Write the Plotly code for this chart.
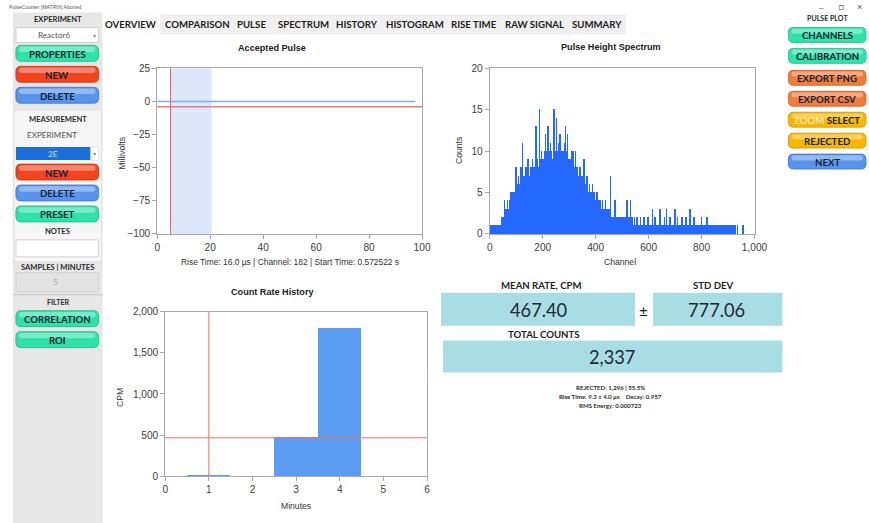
import plotly.graph_objects as go

# design coordinates are in reference pixels (869 x 523)
W, H = 869, 523
FIG_W, FIG_H = 881, 530
FS = FIG_W / W
Y_OFF, Y_SCALE = 4.5, 0.995

# ---------------- data ----------------
pulse_time = [0, 97.5]
pulse_mv = [0, 0]
threshold_mv = -4
rise_window = [5, 20.5]
trigger_time = 5

spectrum_bin_width = 2
spectrum_counts = [
    1, 0, 0, 1, 0, 1, 0, 0, 1, 0, 0, 1, 0, 1, 0, 0, 1, 0, 1, 1, 1, 2, 1, 2, 1,
    2, 1, 4, 2, 2, 3, 2, 3, 4, 2, 3, 4, 3, 2, 5, 3, 4, 3, 5, 4, 3, 5, 4, 6, 8,
    5, 4, 6, 7, 5, 4, 6, 5, 8, 5, 7, 11, 6, 5, 7, 6, 5, 8, 6, 7, 5, 9, 6, 7, 6,
    7, 6, 8, 7, 6, 9, 8, 7, 6, 8, 7, 13, 8, 7, 9, 8, 7, 8, 15, 9, 8, 7, 10, 9, 8,
    9, 8, 10, 7, 12, 9, 8, 10, 9, 13, 8, 10, 9, 8, 11, 9, 10, 8, 9, 10, 15, 9, 8, 10, 9,
    14, 9, 10, 8, 11, 9, 10, 12, 8, 9, 10, 8, 9, 10, 8, 9, 11, 13, 9, 8, 10, 12, 8, 9, 7,
    8, 9, 7, 10, 8, 7, 10, 8, 7, 6, 8, 10, 7, 6, 8, 7, 6, 7, 5, 8, 6, 7, 5, 6, 7,
    5, 6, 9, 5, 6, 4, 5, 6, 7, 4, 5, 4, 6, 5, 4, 3, 5, 4, 6, 4, 3, 5, 4, 3, 4,
    4, 3, 5, 3, 2, 4, 3, 2, 4, 3, 2, 3, 4, 2, 3, 2, 3, 2, 4, 2, 3, 2, 2, 3, 2,
    2, 3, 7, 2, 1, 2, 1, 2, 2, 1, 2, 4, 1, 2, 1, 2, 1, 2, 1, 1, 2, 1, 2, 1, 1,
    1, 2, 1, 1, 2, 1, 1, 1, 4, 1, 2, 1, 1, 1, 2, 4, 1, 1, 2, 1, 1, 1, 2, 1, 1,
    1, 1, 2, 1, 1, 1, 1, 1, 1, 2, 1, 1, 1, 1, 1, 2, 1, 1, 1, 1, 1, 1, 1, 2, 1,
    1, 1, 1, 1, 1, 1, 3, 1, 1, 1, 1, 2, 1, 1, 1, 1, 1, 1, 1, 1, 1, 3, 1, 1, 1,
    1, 1, 1, 1, 2, 1, 1, 1, 3, 1, 1, 1, 1, 1, 2, 1, 1, 1, 1, 1, 1, 1, 1, 1, 3,
    1, 1, 1, 1, 2, 1, 1, 1, 1, 1, 1, 1, 2, 1, 1, 1, 1, 1, 1, 1, 2, 1, 1, 1, 1,
    1, 1, 3, 1, 1, 1, 1, 0, 1, 1, 2, 1, 1, 1, 1, 0, 1, 1, 1, 1, 1, 1, 1, 1, 2,
    1, 1, 1, 1, 1, 1, 1, 1, 1, 2, 0, 1, 1, 1, 1, 0, 1, 1, 1, 0, 1, 1, 1, 0, 1,
    1, 0, 1, 1, 0, 1, 1, 1, 0, 1, 1, 0, 1, 0, 1, 1, 0, 1, 0, 1, 1, 0, 1, 0, 1,
    1, 0, 1, 0, 0, 1, 0, 1, 0, 0, 1, 0, 0, 1, 0, 0, 0, 1, 0, 0, 0, 0, 0, 0, 0,
    0, 0, 1, 1, 0, 0, 0, 0, 0, 0, 0, 0, 0, 0, 0, 0, 0, 0, 0, 0, 0, 0, 0, 0, 0,
]

history_minutes = [1, 2, 3, 4]
history_cpm = [20, 6, 475, 1806]
mean_cpm = 467.4
cursor_minute = 1

mean_rate_text = "467.40"
std_dev_text = "777.06"
total_counts_text = "2,337"
info_lines = ["REJECTED: 1,296 | 55.5%",
              "Rise Time: 9.3 ± 4.0 µs    Decay: 0.957",
              "RMS Energy: 0.000723"]
pulse_caption = "Rise Time: 16.0 µs | Channel: 182 | Start Time: 0.572522 s"

tab_labels = ["OVERVIEW", "COMPARISON", "PULSE", "SPECTRUM", "HISTORY",
              "HISTOGRAM", "RISE TIME", "RAW SIGNAL", "SUMMARY"]
tab_centers = [129, 195, 250, 302, 356, 414, 473, 534, 597]

left_buttons = [("PROPERTIES", 45, 61, "green"), ("NEW", 66, 82, "red"),
                ("DELETE", 87, 103, "blue"), ("NEW", 164, 180, "red"),
                ("DELETE", 185, 201, "blue"), ("PRESET", 206, 222, "green"),
                ("CORRELATION", 311, 327, "green"), ("ROI", 332, 348, "green")]
right_buttons = [("CHANNELS", 27, 42, "green"), ("CALIBRATION", 48, 63, "green"),
                 ("EXPORT PNG", 70, 85, "orange"), ("EXPORT CSV", 91, 106, "orange"),
                 ("<span style='color:#fbe7a8'>ZOOM</span> SELECT", 112, 127, "yellow"),
                 ("REJECTED", 133, 148, "yellow"), ("NEXT", 154, 169, "blue")]

# ---------------- helpers ----------------
def fx(px):
    return px / W

def fy(py):
    return 1 - ((py - Y_OFF) / Y_SCALE) / H

shapes = []
annotations = []

def rect(x0, y0, x1, y1, fill, line=None, lw=0, layer="below"):
    shapes.append(dict(type="rect", xref="paper", yref="paper",
                       x0=fx(x0), x1=fx(x1), y0=fy(y1), y1=fy(y0),
                       fillcolor=fill, layer=layer,
                       line=dict(color=line or fill, width=lw)))

def rrect(x0, y0, x1, y1, r, fill, line=None, lw=0, opacity=1.0):
    def p(x, y):
        return f"{fx(x):.5f},{fy(y):.5f}"
    path = (f"M{p(x0+r, y0)} L{p(x1-r, y0)} Q{p(x1, y0)} {p(x1, y0+r)} "
            f"L{p(x1, y1-r)} Q{p(x1, y1)} {p(x1-r, y1)} L{p(x0+r, y1)} "
            f"Q{p(x0, y1)} {p(x0, y1-r)} L{p(x0, y0+r)} Q{p(x0, y0)} {p(x0+r, y0)} Z")
    shapes.append(dict(type="path", xref="paper", yref="paper", path=path,
                       fillcolor=fill, opacity=opacity, layer="above",
                       line=dict(color=line or fill, width=lw)))

def text(x, y, s, size=9, color="#1e1e1e", bold=False, family="Lato",
         xanchor="center", angle=0):
    annotations.append(dict(x=fx(x), y=fy(y), xref="paper", yref="paper",
                            text=(f"<b>{s}</b>" if bold else s), showarrow=False,
                            xanchor=xanchor, yanchor="middle", textangle=angle,
                            font=dict(size=size * FS, color=color, family=family)))

palette = {
    "green": ("#2fe2a8", "#1fb585"),
    "red": ("#f2441f", "#c8300f"),
    "blue": ("#5994ea", "#3a72c8"),
    "orange": ("#f07c3c", "#c85e22"),
    "yellow": ("#f7b602", "#cf9300"),
}

def button(label, x0, x1, y0, y1, kind):
    fill, border = palette[kind]
    rrect(x0, y0, x1, y1, 5, fill, border, 0.8)
    rrect(x0 + 3, y0 + 1.2, x1 - 3, y0 + (y1 - y0) * 0.42, 3, "#ffffff", None, 0, 0.35)
    text((x0 + x1) / 2, (y0 + y1) / 2 + 0.5, label, size=9.5, color="#152436", bold=True)

# ---------------- background / chrome ----------------
rect(10, 12, 100, 530, "#e7e7e7")
rect(11, 110, 99, 262, "#f6f6f6", "#d8d8d8", 0.6)
rect(100, 14, 626, 34, "#f0f0f0")
rect(100, 14, 158, 34, "#ffffff")

text(4, 6.5, "PulseCounter [MATRIX] Aborted", size=5, color="#555555", xanchor="left",
     family="Liberation Sans")
text(822, 7, "–", size=8, color="#555555", family="Liberation Sans")
text(842, 7, "▫", size=9, color="#555555", family="DejaVu Sans")
text(860, 7, "×", size=9, color="#555555", family="Liberation Sans")

for lab, cx in zip(tab_labels, tab_centers):
    text(cx, 24, lab, size=9.5, color="#1c1c1c", bold=True)

# left panel
text(55, 19, "EXPERIMENT", size=7.5, bold=True, color="#2a2a2a")
rect(13, 27, 96, 42, "#ffffff", "#cfcfcf", 1)
text(51, 35, "Reactor6", size=8, color="#555555")
text(92, 35, "▾", size=6, color="#888888", family="DejaVu Sans")
text(55, 119, "MEASUREMENT", size=7.5, bold=True, color="#2a2a2a")
text(49, 135, "EXPERIMENT", size=8, color="#555555")
rect(13, 147, 88, 160, "#1b6fd8")
rect(88, 147, 96, 160, "#ffffff", "#cfcfcf", 0.5)
text(50, 153.5, "2E", size=8, color="#cfe2ff")
text(92, 153.5, "▾", size=6, color="#888888", family="DejaVu Sans")
text(55, 231, "NOTES", size=7.5, bold=True, color="#2a2a2a")
rect(13, 240, 96, 257, "#ffffff", "#d2d2d2", 1)
text(55, 267, "SAMPLES | MINUTES", size=7.5, bold=True, color="#2a2a2a")
rect(13, 273, 96, 292, "#e3e3e3", "#d2d2d2", 1)
text(53, 282, "5", size=8, color="#a8a8a8")
shapes.append(dict(type="line", xref="paper", yref="paper", x0=fx(10), x1=fx(100),
                   y0=fy(295), y1=fy(295), line=dict(color="#c4c4c4", width=1)))
text(55, 303, "FILTER", size=7, bold=True, color="#2a2a2a")

for lab, y0, y1, kind in left_buttons:
    button(lab, 13, 96, y0, y1, kind)

# right panel
text(828, 18, "PULSE PLOT", size=7, bold=True, color="#2a2a2a")
for lab, y0, y1, kind in right_buttons:
    button(lab, 789, 867, y0, y1, kind)

# ---------------- stats panel ----------------
box = "#a9dde4"
text(541, 285, "MEAN RATE, CPM", size=9.5, bold=True, color="#1e1e1e")
text(714, 285, "STD DEV", size=9.5, bold=True, color="#1e1e1e")
rect(440, 293, 635, 326, box)
rect(653, 293, 783, 326, box)
text(538, 310, mean_rate_text, size=18, color="#1b2a36")
text(717, 310, std_dev_text, size=18, color="#1b2a36")
text(643, 311, "±", size=15, color="#1b2a36")
text(543, 334, "TOTAL COUNTS", size=9.5, bold=True, color="#1e1e1e")
rect(442, 341, 783, 373, box)
text(612, 357, total_counts_text, size=18, color="#1b2a36")
for i, s in enumerate(info_lines):
    text(610, 388 + 9 * i, s, size=6, bold=True, color="#2a2a2a")

# ---------------- charts ----------------
text(270, 48, "Accepted Pulse", size=9, bold=True, family="Liberation Sans", color="#222222")
text(611, 47, "Pulse Height Spectrum", size=9, bold=True, family="Liberation Sans", color="#222222")
text(271, 292, "Count Rate History", size=9, bold=True, family="Liberation Sans", color="#222222")
text(120, 153, "Millivolts", size=8.5, family="Liberation Sans", color="#333333", angle=-90)
text(458, 150, "Counts", size=8.5, family="Liberation Sans", color="#333333", angle=-90)
text(118, 398, "CPM", size=8.5, family="Liberation Sans", color="#333333", angle=-90)
text(288, 262, pulse_caption, size=8.3, family="Liberation Sans", color="#333333")
text(620, 262, "Channel", size=8.5, family="Liberation Sans", color="#333333")
text(294, 507, "Minutes", size=8.5, family="Liberation Sans", color="#333333")

fig = go.Figure()

# pulse
fig.add_trace(go.Scatter(x=pulse_time, y=pulse_mv, mode="lines",
                         line=dict(color="#7ab0f0", width=1.5),
                         xaxis="x", yaxis="y", showlegend=False))
shapes.append(dict(type="rect", xref="x", yref="y domain", x0=rise_window[0], x1=rise_window[1],
                   y0=0, y1=1, fillcolor="#dbe7fa", line=dict(width=0), layer="below"))
shapes.append(dict(type="line", xref="x domain", yref="y", x0=0, x1=1, y0=threshold_mv,
                   y1=threshold_mv, line=dict(color="#f07a7a", width=1.5)))
shapes.append(dict(type="line", xref="x", yref="y domain", x0=trigger_time, x1=trigger_time,
                   y0=0, y1=1, line=dict(color="#f06060", width=1)))

# spectrum
spec_x = [i * spectrum_bin_width + spectrum_bin_width / 2 for i in range(len(spectrum_counts))]
fig.add_trace(go.Bar(x=spec_x, y=spectrum_counts, width=spectrum_bin_width,
                     marker=dict(color="#2468ff", line=dict(width=0)),
                     xaxis="x2", yaxis="y2", showlegend=False))

# history
fig.add_trace(go.Bar(x=history_minutes, y=history_cpm, width=1,
                     marker=dict(color="#5d9cf3", line=dict(width=0)),
                     xaxis="x3", yaxis="y3", showlegend=False))
shapes.append(dict(type="line", xref="x3 domain", yref="y3", x0=0, x1=1, y0=mean_cpm,
                   y1=mean_cpm, line=dict(color="#f06a6a", width=1)))
shapes.append(dict(type="line", xref="x3", yref="y3 domain", x0=cursor_minute, x1=cursor_minute,
                   y0=0, y1=1, line=dict(color="#f06a6a", width=1)))

axis_common = dict(showgrid=False, zeroline=False, showline=True, mirror=True,
                   linecolor="#a8a8a8", linewidth=1, ticks="outside", ticklen=4,
                   tickcolor="#a8a8a8",
                   tickfont=dict(size=10 * FS, color="#404040", family="Liberation Sans"))

fig.update_layout(
    width=FIG_W, height=FIG_H, autosize=False, margin=dict(l=0, r=0, t=0, b=0, pad=0),
    paper_bgcolor="#ffffff", plot_bgcolor="#ffffff",
    bargap=0, showlegend=False,
    xaxis=dict(domain=[fx(155), fx(421)], range=[0, 100], dtick=20, anchor="y", **axis_common),
    yaxis=dict(domain=[fy(234), fy(68)], range=[-100, 25], dtick=25, anchor="x", **axis_common),
    xaxis2=dict(domain=[fx(489), fx(755)], range=[0, 1000], dtick=200, tickformat=",d",
                anchor="y2", **axis_common),
    yaxis2=dict(domain=[fy(234), fy(68)], range=[0, 20], dtick=5, anchor="x2", **axis_common),
    xaxis3=dict(domain=[fx(163), fx(426)], range=[0, 6], dtick=1, anchor="y3", **axis_common),
    yaxis3=dict(domain=[fy(477), fy(312)], range=[0, 2000], dtick=500, tickformat=",d",
                anchor="x3", **axis_common),
    shapes=shapes, annotations=annotations,
)

fig.write_html("out.html")
